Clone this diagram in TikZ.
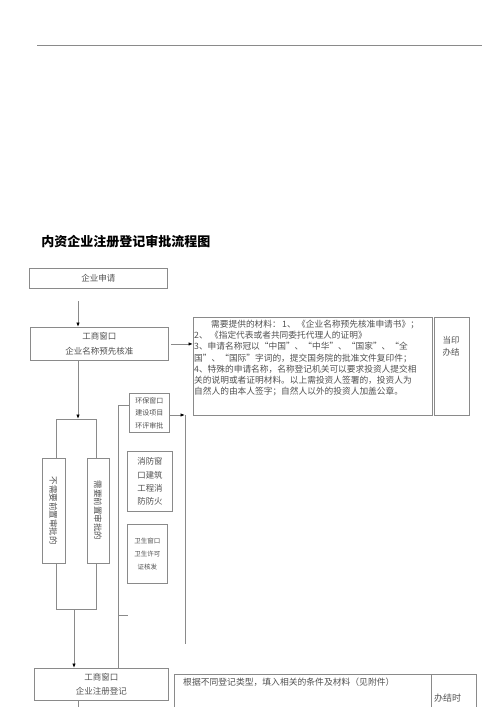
\documentclass[tikz,border=0pt]{standalone}
\usepackage{fontspec}
\setmainfont{Noto Sans CJK SC}
\usetikzlibrary{arrows.meta}
\definecolor{lnc}{HTML}{8A8A8A}
\definecolor{txc}{HTML}{505050}
\begin{document}
\begin{tikzpicture}[x=1pt,y=-1pt,
  box/.style={draw=lnc,line width=0.9pt,anchor=north west,inner sep=0pt,text=txc,align=center,font=\fontsize{8.5}{15}\selectfont},
  lnk/.style={draw=lnc,line width=0.9pt},
  arr/.style={lnk,-{Latex[length=4.5pt,width=3.5pt,color=black]}},
  txt/.style={text=txc,inner sep=0pt}]
\useasboundingbox (0,0) rectangle (500,707);
\clip (0,0) rectangle (500,707);
% top rule
\coordinate (t1) at (37,45); \coordinate (t2) at (482,45);
\draw[lnk] (t1) -- (t2);
% title
\node[font=\fontsize{13}{15}\selectfont\bfseries,text=black,inner sep=0pt] (title) at (126,242) {内资企业注册登记审批流程图};
% boxes
\node[box,minimum width=138pt,minimum height=20pt] (e1) at (29,268) {企业申请};
\node[box,minimum width=138pt,minimum height=33pt] (e2) at (30,327) {工商窗口\\企业名称预先核准};
\node[box,minimum width=239pt,minimum height=98pt] (mat) at (193,317) {};
\node[txt,anchor=north west,align=left,font=\fontsize{8.7}{11.2}\selectfont] (mattxt) at (194,320)
 {\hspace*{17pt}需要提供的材料：\,1、\,《企业名称预先核准申请书》；\\
  2、\;《指定代表或者共同委托代理人的证明》\\
  3、申请名称冠以“中国”、“中华”、“国家”、“全\\
  国”、“国际”字词的，提交国务院的批准文件复印件；\\
  4、特殊的申请名称，名称登记机关可以要求投资人提交相\\
  关的说明或者证明材料。以上需投资人签署的，投资人为\\
  自然人的由本人签字；自然人以外的投资人加盖公章。};
\node[box,minimum width=35pt,minimum height=98pt] (done) at (434,317) {};
\node[txt,anchor=north,align=center,font=\fontsize{8.5}{12}\selectfont] (donetxt) at (451,336) {当印\\办结};
% vertical bars
\node[box,anchor=center,rotate=-90,minimum width=105pt,minimum height=23pt] (b1) at (53.5,510.5) {不需要前置审批的};
\node[box,anchor=center,rotate=-90,minimum width=105pt,minimum height=22pt] (b2) at (98,510.5) {需要前置审批的};
% department boxes
\node[box,minimum width=40pt,minimum height=39pt,font=\fontsize{7}{12.5}\selectfont] (hb) at (129,393) {环保窗口\\建设项目\\环评审批};
\node[box,minimum width=45pt,minimum height=60pt,font=\fontsize{8.4}{13.3}\selectfont] (xf) at (127,451) {消防窗\\口建筑\\工程消\\防防火};
\node[box,minimum width=40pt,minimum height=59pt,font=\fontsize{6.5}{13}\selectfont] (ws) at (127,524) {卫生窗口\\卫生许可\\证核发};
% bottom row
\node[box,minimum width=134pt,minimum height=32pt,font=\fontsize{8.5}{14}\selectfont] (e3) at (34,668) {工商窗口\\企业注册登记};
\node[box,minimum width=257pt,minimum height=45pt] (cond) at (174,674) {};
\node[txt,anchor=west,font=\fontsize{8.8}{10}\selectfont] (condtxt) at (183,682) {根据不同登记类型，填入相关的条件及材料（见附件）};
\node[box,minimum width=45pt,minimum height=45pt] (done2) at (431,674) {};
\node[txt,anchor=west,font=\fontsize{9}{10}\selectfont] (done2txt) at (434,698) {办结时};
% connectors
\coordinate (a1s) at (78,301);
\draw[arr] (a1s) -- (e2.north -| a1s);
\coordinate (st) at (78,419);
\draw[arr] (e2.south -| a1s) -- (st);
\draw[arr,shorten <=2pt] (e2.east) -- (mat.west |- e2.east);
\coordinate (sl) at (56,419); \coordinate (sr) at (96,419);
\draw[lnk] (b1.west -| sl) -- (sl) -- (sr) -- (b2.west -| sr);
\coordinate (jl) at (56,609); \coordinate (jr) at (96,609);
\draw[lnk] (b1.east -| jl) -- (jl) -- (jr) -- (b2.east -| jr);
\coordinate (j) at (74,609);
\draw[arr] (j) -- (e3.north -| j);
\coordinate (lb) at (118,405);
\draw[lnk] (hb.west |- lb) -- (lb) -- (e3.north -| lb);
\coordinate (tk) at (118,615); \coordinate (tke) at (128,615);
\draw[lnk] (tk) -- (tke);
\coordinate (rb) at (185,415); \coordinate (re) at (185,644);
\draw[arr] (hb.east |- rb) -- (rb);
\draw[lnk] (rb) -- (re);
\coordinate (bt) at (78,712);
\draw[lnk] (e3.south -| a1s) -- (bt);
\end{tikzpicture}
\end{document}
